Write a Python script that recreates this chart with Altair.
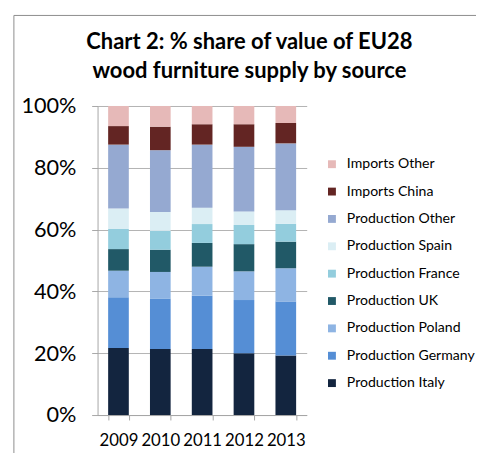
import altair as alt
import pandas as pd

years = ["2009", "2010", "2011", "2012", "2013"]
series = [
    "Production Italy", "Production Germany", "Production Poland", "Production UK",
    "Production France", "Production Spain", "Production Other", "Imports China",
    "Imports Other",
]
colors = [
    "#13253F", "#558ED5", "#8EB4E3", "#215967",
    "#93CDDD", "#DBEEF4", "#95A9D1", "#632523", "#E6B9B8",
]
values = {
    "Production Italy":   [21.7, 21.4, 21.4, 20.0, 19.3],
    "Production Germany": [16.4, 16.2, 17.2, 17.2, 17.4],
    "Production Poland":  [8.6, 8.7, 9.4, 9.3, 10.8],
    "Production UK":      [7.0, 7.2, 7.7, 8.8, 8.6],
    "Production France":  [6.5, 6.1, 6.1, 6.2, 5.8],
    "Production Spain":   [6.6, 6.1, 5.3, 4.4, 4.4],
    "Production Other":   [20.7, 20.0, 20.4, 20.9, 21.6],
    "Imports China":      [6.0, 7.6, 6.6, 7.3, 6.6],
    "Imports Other":      [6.5, 6.7, 5.9, 5.9, 5.5],
}

rows = []
for rank, s in enumerate(series):
    for y, v in zip(years, values[s]):
        rows.append({"year": y, "source": s, "share": v, "rank": rank})
df = pd.DataFrame(rows)

legend_order = series[::-1]
legend_colors = colors[::-1]

FONT = "Lato"

bars = alt.Chart(df).mark_bar(size=21).encode(
    x=alt.X("year:N", title=None, sort=years,
            scale=alt.Scale(paddingInner=0.5, paddingOuter=0.25),
            axis=alt.Axis(labelAngle=0, labelFontSize=17, labelFont=FONT, labelColor="#000000",
                          tickBand="extent", ticks=True, tickSize=5, tickColor="#A6A6A6",
                          domainColor="#A6A6A6", labelPadding=13, grid=False)),
    y=alt.Y("share:Q", stack="normalize", title=None,
            scale=alt.Scale(domain=[0, 1]),
            axis=alt.Axis(format=".0%", values=[0, 0.2, 0.4, 0.6, 0.8, 1.0],
                          labelFontSize=22, labelFont=FONT, labelColor="#000000",
                          tickSize=6, tickColor="#A6A6A6", domainColor="#A6A6A6",
                          gridColor="#B3B3B3", labelPadding=16)),
    color=alt.Color("source:N", scale=alt.Scale(domain=legend_order, range=legend_colors),
                    legend=alt.Legend(title=None, orient="none", legendX=231, legendY=52,
                                      symbolType="square", symbolSize=64, symbolStrokeWidth=0,
                                      labelFontSize=14.3, labelFont=FONT, labelColor="#000000",
                                      rowPadding=12.8, labelOffset=8, padding=0,
                                      labelLimit=200)),
    order=alt.Order("rank:Q", sort="ascending"),
)

border_df = pd.DataFrame({"k": [0]})
border_left = alt.Chart(border_df).mark_rule(color="#8C8C8C", strokeWidth=1).encode(
    x=alt.value(-85), y=alt.value(-92), y2=alt.value(360))
border_top = alt.Chart(border_df).mark_rule(color="#8C8C8C", strokeWidth=1).encode(
    x=alt.value(-85), x2=alt.value(390), y=alt.value(-92))

chart = alt.layer(border_left, border_top, bars).properties(
    width=212.5, height=314,
    title=alt.TitleParams(["Chart 2: % share of value of EU28", "wood furniture supply by source"],
                          font=FONT, fontSize=22.3, fontWeight="bold", color="#000000",
                          anchor="middle", frame="group", dx=48, offset=-68, lineHeight=29),
    autosize=alt.AutoSizeParams(type="none"),
    padding={"left": 91, "top": 96, "right": 172, "bottom": 35},
).configure_view(stroke=None).configure_axis(labelFont=FONT)

chart.save("out.html", embed_options={"renderer": "svg", "actions": False})
